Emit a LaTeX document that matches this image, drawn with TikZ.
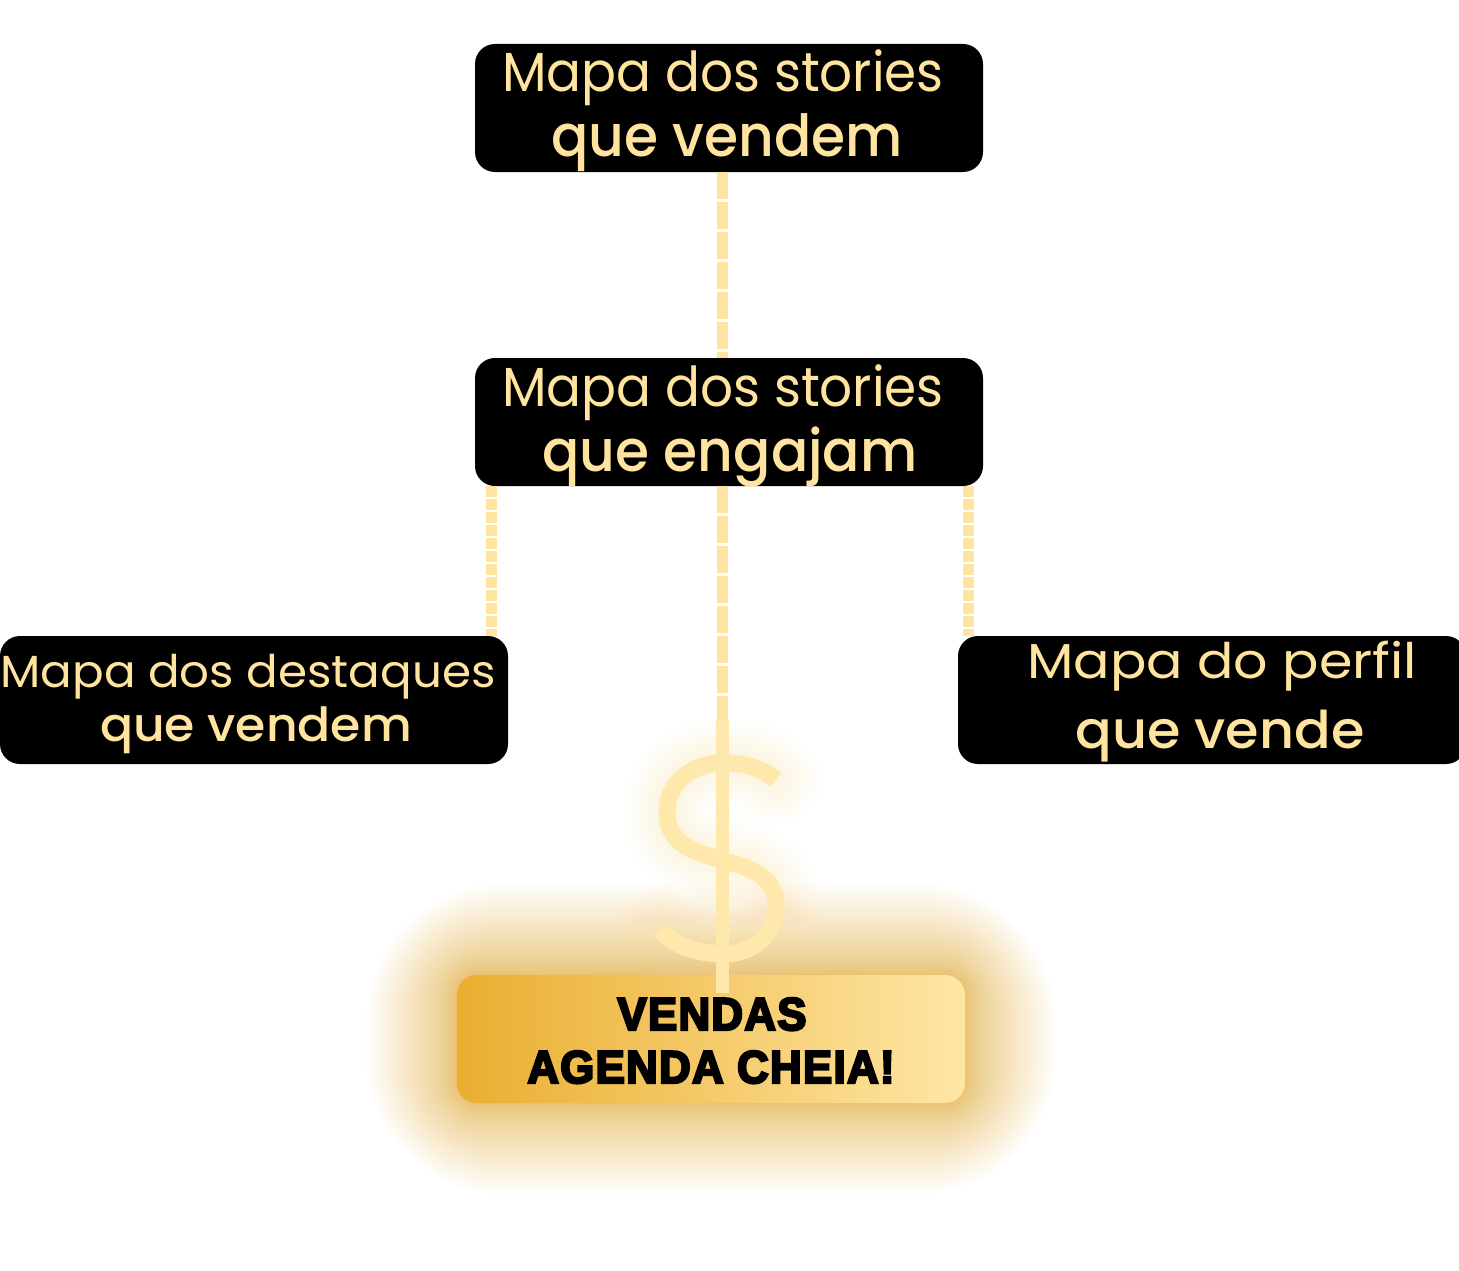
\documentclass[tikz,border=0pt]{standalone}
\usepackage{fontspec}
\setmainfont{Poppins}
\newfontfamily\semib{Poppins Medium}
\newfontfamily\condb{Liberation Sans}[UprightFont={* Bold}, FakeBold=5, FakeStretch=0.95, LetterSpace=3]
\definecolor{cream}{RGB}{255,228,160}
\definecolor{dollarc}{RGB}{255,232,172}
\definecolor{glowc}{RGB}{236,172,48}
\definecolor{halo}{RGB}{253,228,170}
\definecolor{gradL}{RGB}{234,174,48}
\definecolor{gradR}{RGB}{255,230,165}
\tikzset{
  mapbox/.style={rounded corners=20pt, fill=black, minimum width=508pt, minimum height=128pt, inner sep=0pt},
  lineA/.style={anchor=base, text=cream, inner sep=0pt},
  lineB/.style={anchor=base, text=cream, inner sep=0pt},
  conn/.style={draw=cream, line width=11pt, dash pattern=on 27pt off 3pt},
  sideconn/.style={draw=cream, line width=11pt, dash pattern=on 11pt off 2pt},
  salesbox/.style={rounded corners=20pt, left color=gradL, right color=gradR, draw=none, minimum width=508pt, minimum height=128pt, inner sep=0pt},
  salestext/.style={anchor=base, text=black, inner sep=0pt, font=\condb\fontsize{46}{50}\selectfont},
}
\begin{document}
\begin{tikzpicture}[x=1pt,y=-1pt]
\useasboundingbox (0,0) rectangle (1459,1271);
\clip (0,0) rectangle (1459,1271);
\fill[white] (0,0) rectangle (1459,1271);

% glow around the sales box
\foreach \i in {1,...,30}{
  \pgfmathsetmacro{\dd}{0.1*\i*\i}
  \pgfmathsetmacro{\rr}{20+1.3*\dd}
  \fill[glowc, opacity=0.035, rounded corners=\rr pt] ({457-\dd},{975-\dd}) rectangle ({965+\dd},{1103+\dd});
}
% halo around the dollar sign
\def\spath{(776,780) .. controls (762,768) and (745,763) .. (724,763) .. controls (690,763) and (667,784) .. (667,812) .. controls (667,845) and (695,852) .. (722,860) .. controls (752,868) and (776,878) .. (776,905) .. controls (776,935) and (752,954) .. (724,954) .. controls (697,954) and (673,945) .. (660,930)}
\foreach \w in {24,32,...,88}{
  \draw[halo, opacity=0.03, line width=\w pt, line cap=round, line join=round] \spath;
}

% boxes
\node[mapbox] (top) at (729,108) {};
\node[mapbox] (mid) at (729,422) {};
\node[mapbox] (left) at (254,700) {};
\node[mapbox] (right) at (1212,700) {};
\node[salesbox] (sales) at (711,1039) {};

% connectors
\coordinate (dollartop) at (722,720);
\draw[conn] (top.south -| dollartop) -- (mid.north -| dollartop);
\draw[conn] (mid.south -| dollartop) -- (dollartop);
\draw[sideconn] ([xshift=-17pt]left.north east |- mid.south) -- ([xshift=-17pt]left.north east);
\draw[sideconn] ([xshift=11pt]right.north west |- mid.south) -- ([xshift=11pt]right.north west);

% dollar sign
\draw[dollarc, line width=17pt] \spath;
\draw[dollarc, line width=13pt] (dollartop) -- (sales.north -| dollartop) -- ++(0,18);

% texts
\node[lineA, font=\fontsize{55}{60}\selectfont] (t1) at (723,92) {\scalebox{0.94}[1]{Mapa dos stories}};
\node[lineB, font=\semib\fontsize{58}{62}\selectfont] (t2) at (727,157) {\scalebox{0.95}[1]{que vendem}};
\node[lineA, font=\fontsize{55}{60}\selectfont] (m1) at (723,406) {\scalebox{0.94}[1]{Mapa dos stories}};
\node[lineB, font=\semib\fontsize{58}{62}\selectfont] (m2) at (730,471) {\scalebox{0.95}[1]{que engajam}};
\node[lineA, font=\fontsize{45}{48}\selectfont] (l1) at (248,687) {\scalebox{1.04}[1]{Mapa dos destaques}};
\node[lineB, font=\semib\fontsize{47}{50}\selectfont] (l2) at (256,741) {\scalebox{1.04}[1]{que vendem}};
\node[lineA, font=\fontsize{49}{52}\selectfont] (r1) at (1222,678) {\scalebox{1.1}[1]{Mapa do perfil}};
\node[lineB, font=\semib\fontsize{52}{56}\selectfont] (r2) at (1220,748) {\scalebox{1.04}[1]{que vende}};
\node[salestext] (s1) at (712,1030) {VENDAS};
\node[salestext] (s2) at (711,1083) {AGENDA CHEIA!};
\end{tikzpicture}
\end{document}
